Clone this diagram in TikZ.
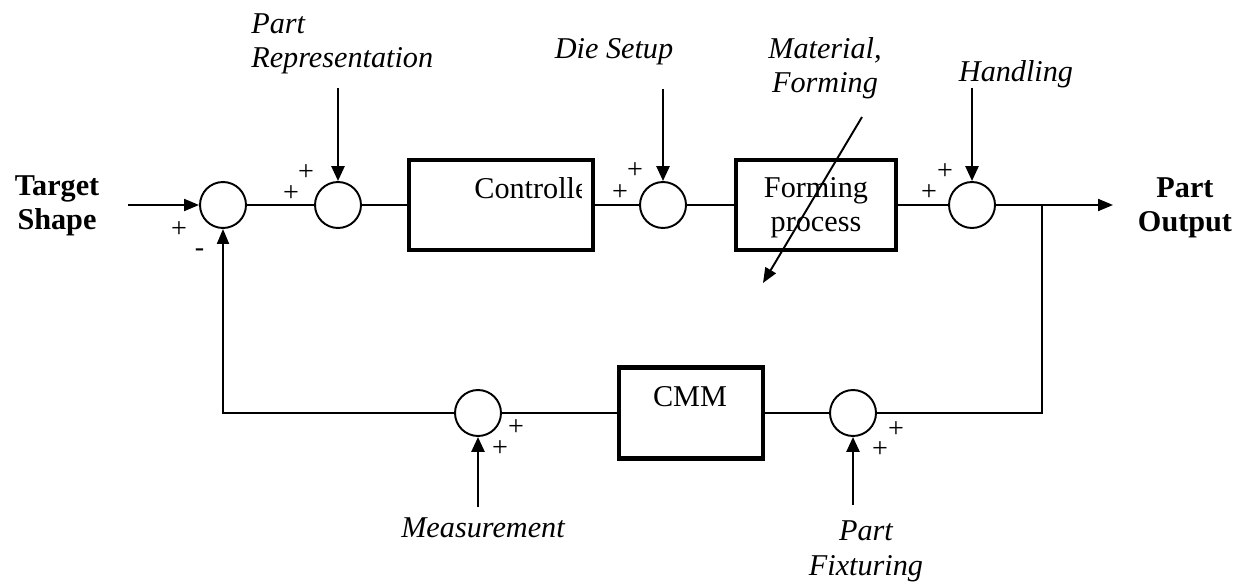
\documentclass[tikz,border=0pt]{standalone}
\usepackage{fontspec}
\setmainfont{Liberation Serif}
\usetikzlibrary{arrows.meta}
\begin{document}
\begin{tikzpicture}[x=0.02cm,y=-0.02cm,
  rm/.style={font=\fontsize{17.2}{19.7}\selectfont, inner sep=0, anchor=base, align=center},
  it/.style={font=\fontsize{17.2}{19.7}\selectfont\itshape, inner sep=0, anchor=base, align=center},
  bf/.style={font=\fontsize{17.2}{19.7}\selectfont\bfseries, inner sep=0, anchor=base, align=center},
  sgn/.style={font=\fontsize{16}{16}\selectfont, inner sep=0},
  sumj/.style={circle, draw, line width=1.1pt, minimum size=0.92cm, inner sep=0},
  blk/.style={draw, line width=2.3pt, inner sep=0},
  wire/.style={line width=1.1pt},
  arr/.style={wire, -{Triangle[length=0.3cm,width=0.24cm]}},
  inarr/.style={line width=1.5pt, -{Triangle[length=0.3cm,width=0.26cm]}}]
\useasboundingbox (0,0) rectangle (1250,584);

% summing junctions
\node[sumj] (s1) at (223,205) {};
\node[sumj] (s2) at (338,205) {};
\node[sumj] (s3) at (663,205) {};
\node[sumj] (s4) at (972,205) {};
\node[sumj] (s5) at (478,413) {};
\node[sumj] (s6) at (853,413) {};

% blocks
\node[blk, minimum width=3.68cm, minimum height=1.8cm] (ctrl) at (501,205) {};
\node[blk, minimum width=3.2cm, minimum height=1.8cm] (form) at (816,205) {};
\node[blk, minimum width=2.88cm, minimum height=1.82cm] (cmm) at (691,413) {};

% block texts
\begin{scope}
  \clip (409,160) rectangle (581,250);
  \node[rm, anchor=base west] (ctrltxt) at (474,198) {Controller};
\end{scope}
\node[rm] (formtxt) at (816,232) {Forming\\process};
\node[rm] (cmmtxt) at (690,406) {CMM};

% outer labels
\node[bf] (tgt) at (57,230) {Target\\Shape};
\node[bf] (pout) at (1185,232) {Part\\Output};
\node[it, anchor=base west, align=left] (prep) at (251,68) {Part\\Representation};
\node[it] (die) at (614,59) {Die Setup};
\node[it] (mat) at (825,93) {Material,\\Forming};
\node[it] (hand) at (1016,82) {Handling};
\node[it] (meas) at (483,537) {Measurement};
\node[it] (fix) at (866,575) {Part\\Fixturing};

% signs
\node[sgn] (p1a) at (179,230) {+};
\node[sgn] (m1) at (199.5,253) {-};
\node[sgn] (p2a) at (291,194) {+};
\node[sgn] (p2b) at (306,173) {+};
\node[sgn] (p3a) at (620,193) {+};
\node[sgn] (p3b) at (635,171) {+};
\node[sgn] (p4a) at (929,193) {+};
\node[sgn] (p4b) at (945,172) {+};
\node[sgn] (p5a) at (516,428) {+};
\node[sgn] (p5b) at (500,449) {+};
\node[sgn] (p6a) at (896,430) {+};
\node[sgn] (p6b) at (880,450) {+};

% free ends
\coordinate (tin) at (128,205);
\coordinate (out) at (1113,205);
\coordinate (br) at (1042,205);
\coordinate (pr) at (338,88);
\coordinate (ds) at (663,89);
\coordinate (hd) at (972,88);
\coordinate (ms) at (478,507);
\coordinate (pf) at (853,505);
\coordinate (mf1) at (862,117);
\coordinate (mf2) at (763,283);

% forward path
\draw[arr] (tin) -- (s1.west);
\draw[wire] (s1.east) -- (s2.west);
\draw[wire] (s2.east) -- (ctrl.west);
\draw[wire] (ctrl.east) -- (s3.west);
\draw[wire] (s3.east) -- (form.west);
\draw[wire] (form.east) -- (s4.west);
\draw[arr] (s4.east) -- (out);

% feedback path
\draw[wire] (br) |- (s6.east);
\draw[wire] (s6.west) -- (cmm.east);
\draw[wire] (cmm.west) -- (s5.east);
\draw[arr] (s5.west) -| (s1.south);

% disturbance inputs
\draw[inarr] (pr) -- (s2.north);
\draw[inarr] (ds) -- (s3.north);
\draw[inarr] (hd) -- (s4.north);
\draw[inarr] (ms) -- (s5.south);
\draw[inarr] (pf) -- (s6.south);
\draw[arr] (mf1) -- (mf2);
\end{tikzpicture}
\end{document}
